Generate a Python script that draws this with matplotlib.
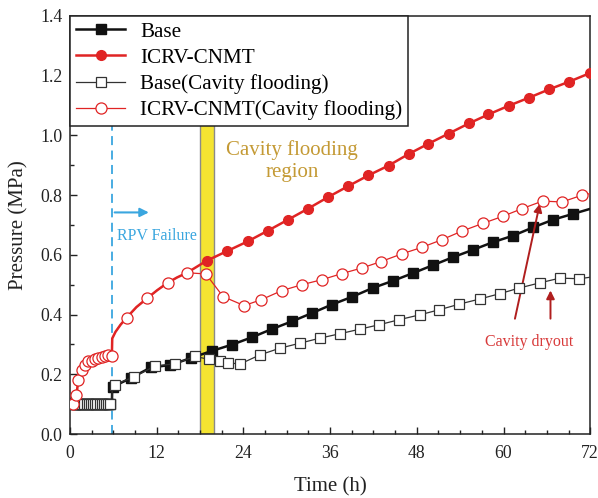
import matplotlib
matplotlib.use("Agg")
import matplotlib.pyplot as plt
import numpy as np

plt.rcParams['font.family'] = ['Liberation Serif', 'DejaVu Serif']

# early (before RPV failure) sampling times, shared by the series
t_early = [0.5, 0.8, 1.1, 1.4, 1.7, 2.0, 2.3, 2.6, 2.9, 3.2, 3.5, 3.8, 4.1, 4.4, 4.7, 5.0, 5.3, 5.6, 5.8]
p_early_base = [0.1] * len(t_early)

# Base
t_base = t_early + [5.85, 6.0, 8.4, 11.2, 13.9, 16.7, 19.6, 22.4, 25.2, 27.9, 30.7, 33.5, 36.2, 39.0, 41.9,
                    44.7, 47.5, 50.2, 53.0, 55.8, 58.5, 61.3, 64.1, 66.9, 69.6, 72.0]
p_base = p_early_base + [0.155, 0.159, 0.187, 0.223, 0.231, 0.254, 0.278, 0.299, 0.324, 0.351, 0.377, 0.405,
                         0.433, 0.459, 0.489, 0.513, 0.539, 0.565, 0.592, 0.617, 0.642, 0.664, 0.692, 0.718,
                         0.737, 0.754]
mk_base = list(range(0, 18)) + list(range(20, 44))

# Base (cavity flooding)
t_base_cf = t_early + [5.85, 6.2, 8.9, 11.8, 14.5, 17.3, 19.2, 20.8, 21.9, 23.5, 26.3, 29.0, 31.8, 34.6, 37.4,
                       40.1, 42.8, 45.6, 48.4, 51.1, 53.9, 56.7, 59.5, 62.2, 65.0, 67.8, 70.5, 72.0]
p_base_cf = p_early_base + [0.16, 0.165, 0.192, 0.228, 0.235, 0.26, 0.25, 0.243, 0.239, 0.234, 0.265, 0.287,
                            0.304, 0.321, 0.336, 0.351, 0.366, 0.383, 0.399, 0.416, 0.435, 0.452, 0.47, 0.489,
                            0.506, 0.522, 0.52, 0.525]
mk_base_cf = list(range(0, 18)) + list(range(20, 46))

# ICRV-CNMT, early part and post-failure curve
t_icrv_early = [0.46, 0.9, 1.15, 1.6, 2.1, 2.5, 3.0, 3.5, 3.9, 4.4, 4.85, 5.3, 5.8]
p_icrv_early = [0.1, 0.13, 0.18, 0.215, 0.232, 0.243, 0.246, 0.25, 0.254, 0.259, 0.262, 0.264, 0.262]
t_curve = [5.85, 6.3, 7.0, 7.85, 9.2, 10.7, 12.1, 13.5, 14.8, 16.2]
p_curve = [0.32, 0.342, 0.366, 0.39, 0.425, 0.455, 0.482, 0.506, 0.524, 0.54]

t_icrv = t_icrv_early + t_curve + [18.9, 21.7, 24.6, 27.4, 30.2, 32.9, 35.7, 38.5, 41.3, 44.1, 46.9, 49.6,
                                   52.4, 55.2, 57.9, 60.7, 63.5, 66.3, 69.1, 71.9]
p_icrv = p_icrv_early + p_curve + [0.58, 0.612, 0.645, 0.681, 0.718, 0.754, 0.793, 0.83, 0.866, 0.899, 0.938,
                                   0.972, 1.006, 1.04, 1.07, 1.099, 1.126, 1.154, 1.18, 1.208]
mk_icrv = list(range(0, 13)) + [16, 18, 20, 22] + list(range(23, 43))

# ICRV-CNMT (cavity flooding)
t_icrv_cf = t_icrv_early + t_curve + [18.8, 21.2, 24.1, 26.5, 29.3, 32.1, 34.9, 37.6, 40.4, 43.0, 45.9, 48.7,
                                      51.5, 54.2, 57.1, 59.9, 62.6, 65.4, 68.1, 70.9, 72.0]
p_icrv_cf = p_icrv_early + p_curve + [0.536, 0.46, 0.43, 0.45, 0.48, 0.50, 0.517, 0.537, 0.556, 0.577, 0.603,
                                      0.625, 0.651, 0.679, 0.705, 0.729, 0.755, 0.78, 0.777, 0.80, 0.805]
mk_icrv_cf = list(range(0, 13)) + [16, 18, 20, 22] + list(range(23, 43))

red = '#e02424'

fig = plt.figure(figsize=(5.98, 4.98), dpi=100)
ax = fig.add_axes([0.117, 0.1285, 0.87, 0.8395])

# cavity flooding band and RPV failure marker
ax.axvspan(18, 20, facecolor='#f4e431', edgecolor='#8a8a8a', lw=1, zorder=1)
ax.axvline(5.8, color='#3aa6df', ls=(0, (5, 3)), lw=1.3, zorder=1)

ax.plot(t_base, p_base, color='#111111', lw=1.8, marker='s', ms=6.5, mfc='#111111', mec='#111111',
        markevery=mk_base, label='Base', zorder=3)
ax.plot(t_icrv, p_icrv, color=red, lw=1.8, marker='o', ms=7, mfc=red, mec=red,
        markevery=mk_icrv, label='ICRV-CNMT', zorder=3)
ax.plot(t_base_cf, p_base_cf, color='#333333', lw=0.9, marker='s', ms=7, mfc='white', mec='#333333',
        mew=0.9, markevery=mk_base_cf, label='Base(Cavity flooding)', zorder=4)
ax.plot(t_icrv_cf, p_icrv_cf, color=red, lw=0.9, marker='o', ms=8, mfc='white', mec=red,
        mew=0.9, markevery=mk_icrv_cf, label='ICRV-CNMT(Cavity flooding)', zorder=4)

ax.annotate('', xy=(11.3, 0.742), xytext=(5.8, 0.742),
            arrowprops=dict(arrowstyle='-|>', color='#3aa6df', lw=1.5, mutation_scale=13))
ax.text(6.5, 0.664, 'RPV Failure', color='#3aa6df', fontsize=11.5, va='center', ha='left')
ax.text(30.7, 0.914, 'Cavity flooding\nregion', color='#c49a35', fontsize=15, ha='center', va='center',
        linespacing=1.2)

ax.annotate('', xy=(65.1, 0.78), xytext=(61.5, 0.377),
            arrowprops=dict(arrowstyle='-|>', color='#b01e1e', lw=1.4, mutation_scale=12))
ax.annotate('', xy=(66.5, 0.49), xytext=(66.5, 0.377),
            arrowprops=dict(arrowstyle='-|>', color='#b01e1e', lw=1.4, mutation_scale=12))
ax.text(63.5, 0.309, 'Cavity dryout', color='#d83a3a', fontsize=11.5, ha='center', va='center')

ax.set_xlim(0, 72)
ax.set_ylim(0, 1.4)
ax.set_xticks(np.arange(0, 73, 12))
ax.set_xticks(np.arange(0, 73, 3), minor=True)
ax.set_yticks(np.arange(0, 1.41, 0.2))
ax.set_yticks(np.arange(0, 1.41, 0.1), minor=True)
ax.yaxis.set_major_formatter(matplotlib.ticker.FormatStrFormatter('%.1f'))
ax.tick_params(which='both', direction='in', top=False, right=False, labelsize=12.8, colors='#222222')
ax.tick_params(which='major', length=5, width=1)
ax.tick_params(which='minor', length=3, width=1)
ax.tick_params(axis='x', pad=8)
ax.tick_params(axis='y', pad=5.5)
for s in ax.spines.values():
    s.set_linewidth(1.1)
    s.set_color('#222222')

ax.set_xlabel('Time (h)', fontsize=15, color='#222222', labelpad=11)
ax.set_ylabel('Pressure (MPa)', fontsize=15, color='#222222', labelpad=8)

leg = ax.legend(loc='upper left', borderaxespad=0, fontsize=15.2, frameon=True, fancybox=False,
                handlelength=2.35, handletextpad=0.7, labelspacing=0.3, borderpad=0.28)
leg.get_frame().set_edgecolor('#222222')
leg.get_frame().set_linewidth(1.1)
leg.get_frame().set_alpha(1)
leg.set_zorder(10)

fig.savefig('out.png', dpi=100)
